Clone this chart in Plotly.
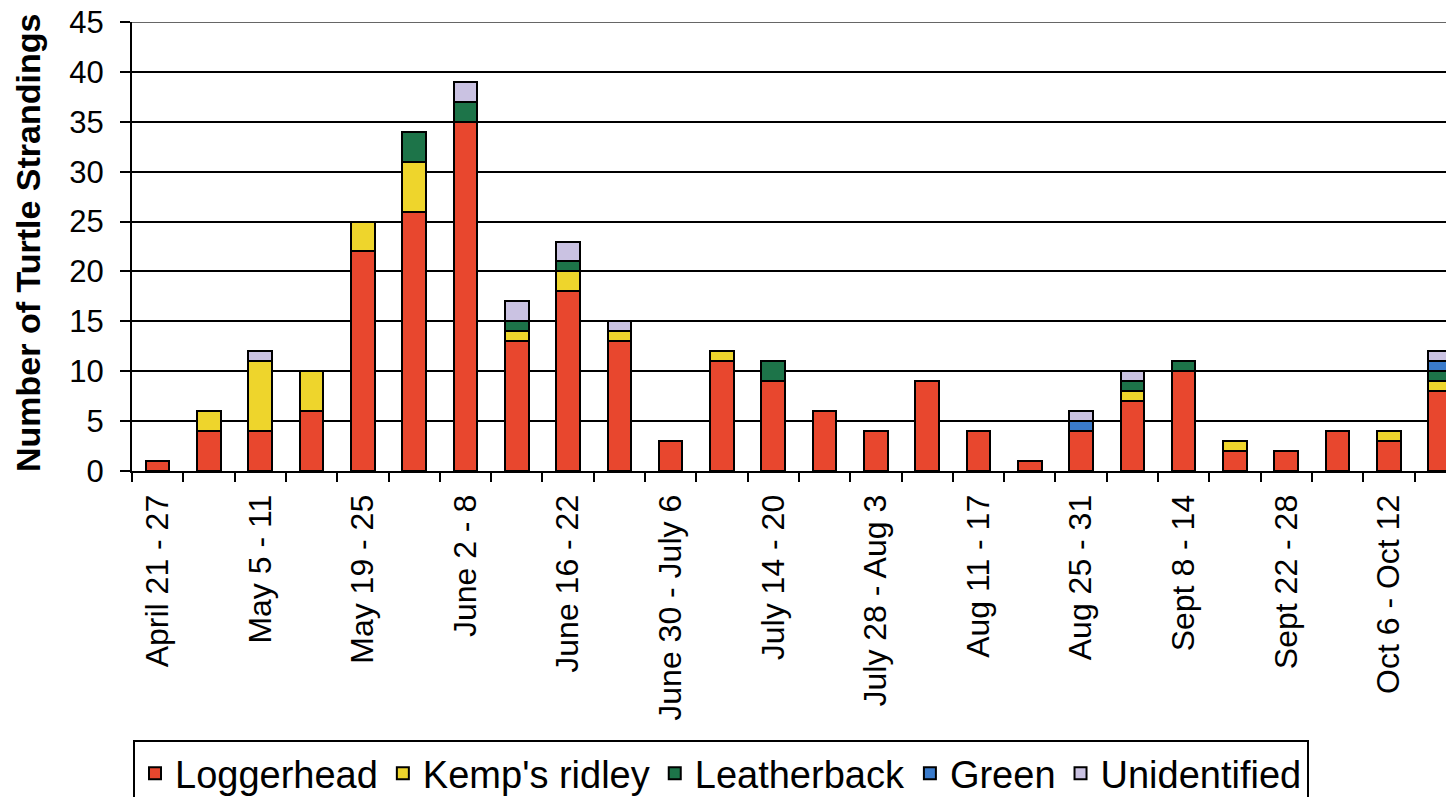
import plotly.graph_objects as go

weeks = [
    "April 21 - 27", "April 28 - May 4", "May 5 - 11", "May 12 - 18",
    "May 19 - 25", "May 26 - June 1", "June 2 - 8", "June 9 - 15",
    "June 16 - 22", "June 23 - 29", "June 30 - July 6", "July 7 - 13",
    "July 14 - 20", "July 21 - 27", "July 28 - Aug 3", "Aug 4 - 10",
    "Aug 11 - 17", "Aug 18 - 24", "Aug 25 - 31", "Sept 1 - 7",
    "Sept 8 - 14", "Sept 15 - 21", "Sept 22 - 28", "Sept 29 - Oct 5",
    "Oct 6 - Oct 12", "Oct 13 - 19",
]
loggerhead = [1, 4, 4, 6, 22, 26, 35, 13, 18, 13, 3, 11, 9, 6, 4, 9, 4, 1, 4, 7, 10, 2, 2, 4, 3, 8]
kemps_ridley = [0, 2, 7, 4, 3, 5, 0, 1, 2, 1, 0, 1, 0, 0, 0, 0, 0, 0, 0, 1, 0, 1, 0, 0, 1, 1]
leatherback = [0, 0, 0, 0, 0, 3, 2, 1, 1, 0, 0, 0, 2, 0, 0, 0, 0, 0, 0, 1, 1, 0, 0, 0, 0, 1]
green = [0, 0, 0, 0, 0, 0, 0, 0, 0, 0, 0, 0, 0, 0, 0, 0, 0, 0, 1, 0, 0, 0, 0, 0, 0, 1]
unidentified = [0, 0, 1, 0, 0, 0, 2, 2, 2, 1, 0, 0, 0, 0, 0, 0, 0, 0, 1, 1, 0, 0, 0, 0, 0, 1]

series = [
    ("Loggerhead", loggerhead, "#E8472E"),
    ("Kemp's ridley", kemps_ridley, "#EED52C"),
    ("Leatherback", leatherback, "#1D7449"),
    ("Green", green, "#3A7BCB"),
    ("Unidentified", unidentified, "#CAC2E2"),
]

FONT = "Liberation Sans, Arial, sans-serif"
W, H = 1446, 789  # page body adds an 8px margin
Y_MAX = 45

fig = go.Figure()
for name, vals, color in series:
    fig.add_trace(go.Bar(
        x=weeks, y=[v if v else None for v in vals], name=name,
        marker=dict(color=color, line=dict(color="black", width=2)),
    ))

ticktext = [w if i % 2 == 0 else "" for i, w in enumerate(weeks)]

fig.update_layout(
    width=W, height=H,
    barmode="stack", bargap=0.54,
    plot_bgcolor="white", paper_bgcolor="white",
    margin=dict(l=124, r=0, t=14, b=326, autoexpand=False),
    font=dict(family=FONT, size=30, color="black"),
    showlegend=True,
    legend=dict(
        orientation="h", xref="container", x=125 / W, xanchor="left",
        yref="container", y=1 - 732 / H, yanchor="top",
        font=dict(size=38, family=FONT, color="black"),
        bordercolor="black", borderwidth=2, bgcolor="white",
        traceorder="normal", itemwidth=30, tracegroupgap=0,
    ),
    xaxis=dict(
        type="category", range=[-0.5, 25.27], automargin=False,
        tickmode="array", tickvals=weeks, ticktext=ticktext,
        tickson="boundaries", ticks="outside", ticklen=9, tickwidth=2,
        tickcolor="black", tickangle=-90, ticklabelstandoff=9,
        showline=True, linecolor="black", linewidth=2,
        showgrid=False, tickfont=dict(size=32),
    ),
    yaxis=dict(
        range=[0, Y_MAX], tickmode="linear", tick0=0, dtick=5, automargin=False,
        ticks="outside", ticklen=10, tickwidth=2, tickcolor="black",
        ticklabelstandoff=10, ticklabeloverflow="allow",
        showline=True, linecolor="black", linewidth=2,
        showgrid=True, gridcolor="black", gridwidth=2,
        zeroline=False, tickfont=dict(size=31),
    ),
    shapes=[dict(
        type="line", xref="paper", x0=0, x1=1, yref="y", y0=Y_MAX, y1=Y_MAX,
        line=dict(color="#333333", width=1.5), layer="below",
    )],
    annotations=[dict(
        text="<b>Number of Turtle Strandings</b>", textangle=-90,
        xref="paper", yref="paper", x=-104 / 1322, y=0.5078,
        xanchor="center", yanchor="middle", showarrow=False,
        font=dict(size=34, family=FONT, color="black"),
    )],
)

fig.write_html("out.html")
